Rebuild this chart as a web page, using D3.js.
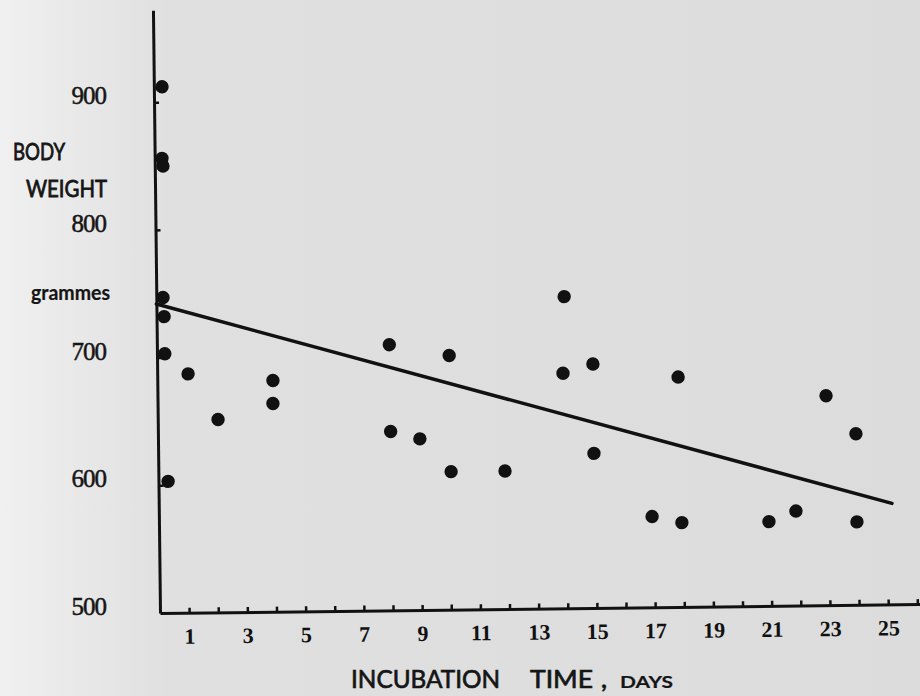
<!DOCTYPE html>
<html>
<head>
<meta charset="utf-8">
<script src="https://cdn.jsdelivr.net/npm/d3@7"></script>
<style>
  html, body { margin: 0; padding: 0; background: #dddddd; }
  svg { display: block; }
</style>
</head>
<body>
<svg id="chart" width="920" height="696"></svg>
<script>
// Incubation time (days) and body weight (grammes) of each bird
const days = [
  0.28, 0.25, 0.28, 0.23, 0.26, 0.27, 0.33,
  1.06, 2.07, 3.97, 3.96, 7.98, 7.99, 8.99, 10.03, 10.05, 11.9,
  14.0, 13.93, 14.96, 14.96, 16.93, 17.88, 17.95, 20.94, 21.87,
  22.95, 23.96, 23.96
];
const weights = [
  912, 856, 850, 747, 732, 703, 603,
  687, 651, 681, 663, 708, 640, 634, 699, 608, 608,
  744, 684, 691, 621, 571, 680, 566, 566, 574,
  664, 634, 565
];

// Fitted regression line: weight = intercept + slope * day
const fitIntercept = 742;
const fitSlope = -6.47;
const fitDays = [0, 25.17];

// Axis ticks
const xTickValues = d3.range(1, 27);
const xTickLabels = ["1", "3", "5", "7", "9", "11", "13", "15", "17", "19", "21", "23", "25"];
const yTickValues = [600, 700, 800, 900];
const yTickLabels = ["500", "600", "700", "800", "900"];

const svg = d3.select("#chart");

// Paper background, lighter toward the left margin
const defs = svg.append("defs");
const grad = defs.append("linearGradient").attr("id", "paper")
  .attr("x1", "0").attr("x2", "1").attr("y1", "0").attr("y2", "0");
grad.append("stop").attr("offset", "0").attr("stop-color", "#f0f0f0");
grad.append("stop").attr("offset", "0.18").attr("stop-color", "#e0e0e0");
grad.append("stop").attr("offset", "1").attr("stop-color", "#dcdcdc");
svg.append("rect").attr("width", 920).attr("height", 696).attr("fill", "url(#paper)");

const origin = { x: 160, y: 613 };
const pxPerDay = 29.13;
const pxPer100g = 127.7;
const xMax = 26.3, yMax = 972;

const x = d3.scaleLinear().domain([0, xMax]).range([0, xMax * pxPerDay]);
const y = d3.scaleLinear().domain([500, yMax]).range([0, -(yMax - 500) / 100 * pxPer100g]);

// The printed figure sits slightly tilted on the page
const plot = svg.append("g")
  .attr("transform", `translate(${origin.x},${origin.y}) rotate(-0.67)`);

// x axis with short inward ticks
const xAxis = plot.append("g")
  .call(d3.axisBottom(x)
    .tickValues(xTickValues)
    .tickSizeInner(-5)
    .tickSizeOuter(0)
    .tickFormat(d => xTickLabels.includes(String(d)) ? String(d) : ""));
xAxis.select(".domain").attr("stroke", "#111").attr("stroke-width", 3);
xAxis.selectAll(".tick line").attr("stroke", "#111").attr("stroke-width", 2.5);
xAxis.selectAll(".tick text")
  .attr("y", 31).attr("dy", 0)
  .attr("fill", "#111")
  .style("font-family", "'Liberation Serif', 'DejaVu Serif', serif")
  .style("font-weight", "bold")
  .style("font-size", "22px");

// y axis with short inward ticks, labels drawn separately
const yAxis = plot.append("g")
  .call(d3.axisLeft(y)
    .tickValues(yTickValues)
    .tickSizeInner(-5)
    .tickSizeOuter(0)
    .tickFormat(""));
yAxis.select(".domain").attr("stroke", "#111").attr("stroke-width", 3);
yAxis.selectAll(".tick line").attr("stroke", "#111").attr("stroke-width", 2.5);

// Regression line
const line = d3.line()
  .x(d => x(d))
  .y(d => y(fitIntercept + fitSlope * d));
plot.append("path")
  .datum(fitDays)
  .attr("d", line)
  .attr("fill", "none")
  .attr("stroke", "#111")
  .attr("stroke-width", 3.5)
  .attr("stroke-linecap", "round");

// Observations
plot.selectAll("circle.obs")
  .data(days.map((d, i) => [d, weights[i]]))
  .join("circle")
  .attr("class", "obs")
  .attr("cx", d => x(d[0]))
  .attr("cy", d => y(d[1]))
  .attr("r", 6.7)
  .attr("fill", "#111");

// y tick labels
const labels = svg.append("g").attr("transform", `translate(${origin.x},${origin.y})`);
labels.selectAll("text.ylab")
  .data(yTickLabels)
  .join("text")
  .attr("class", "ylab")
  .attr("x", -54)
  .attr("y", d => y(+d) + 2)
  .attr("text-anchor", "end")
  .attr("fill", "#151515")
  .attr("stroke", "#151515")
  .attr("stroke-width", 0.5)
  .style("font-family", "'Liberation Serif', 'DejaVu Serif', serif")
  .style("font-size", "25px")
  .style("letter-spacing", "-1px")
  .text(d => d);

// Axis titles
const titleFont = "Lato, 'Open Sans', sans-serif";
function title(txt, xPos, yPos, size, len, weight, halo) {
  svg.append("text")
    .attr("x", xPos).attr("y", yPos)
    .attr("textLength", len)
    .attr("lengthAdjust", "spacingAndGlyphs")
    .attr("fill", "#151515")
    .attr("stroke", "#151515")
    .attr("stroke-width", halo)
    .style("font-family", titleFont)
    .style("font-size", size + "px")
    .style("font-weight", weight)
    .text(txt);
}
title("BODY", 13, 160, 23, 52, 400, 0.8);
title("WEIGHT", 26, 197, 23, 81, 400, 0.8);
title("grammes", 31, 300, 20, 79, 700, 0.2);
title("INCUBATION", 351, 688, 25, 149, 400, 0.7);
title("TIME", 530, 688, 25, 63, 400, 0.7);
title(",", 601, 688, 25, 6, 700, 0.3);
title("DAYS", 620, 688, 17.5, 53, 700, 0.2);
</script>
</body>
</html>
